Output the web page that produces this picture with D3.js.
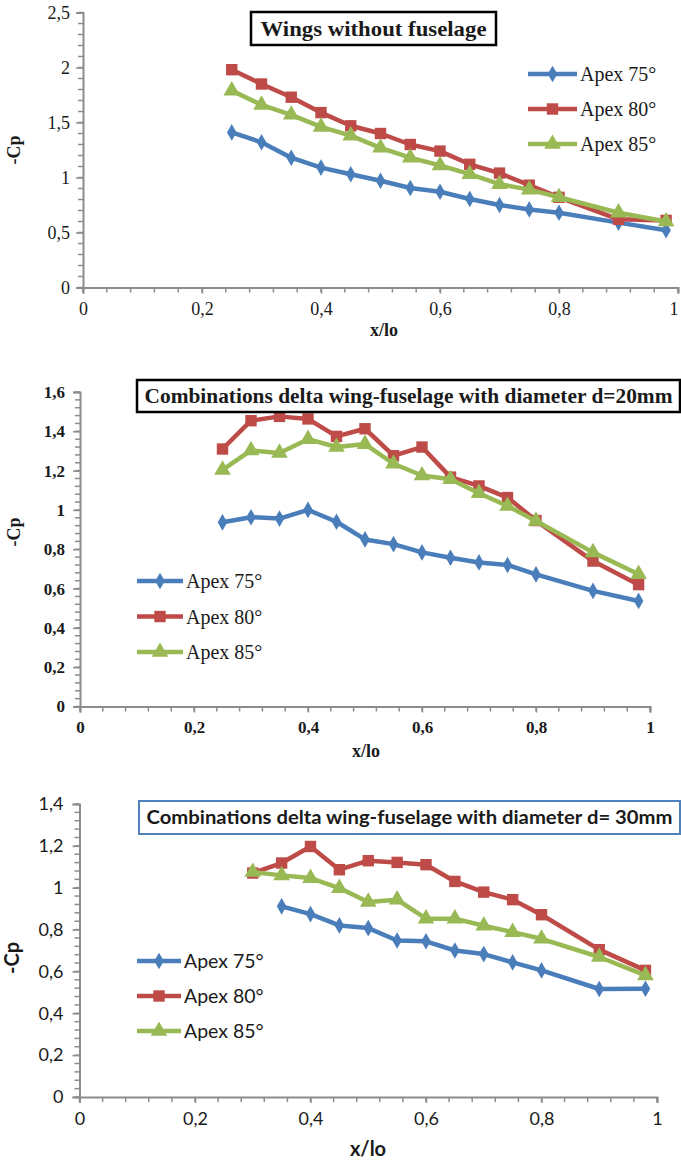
<!DOCTYPE html>
<html>
<head>
<meta charset="utf-8">
<script src="https://cdn.jsdelivr.net/npm/d3@7/dist/d3.min.js"></script>
<style>
  html, body { margin: 0; padding: 0; background: #fff; }
  svg { display: block; }
</style>
</head>
<body>
<svg id="chart" width="681" height="1164"></svg>
<script>
// Pressure coefficient distributions (-Cp vs x/lo) for three delta-wing configurations.
const seriesNames = ["Apex 75°", "Apex 80°", "Apex 85°"];
const seriesColors = ["#4A7EBB", "#BE4B48", "#98B954"];
const seriesSymbols = ["diamond", "square", "triangle"];

// Panel 1: wings without fuselage
const xWing = [0.25, 0.30, 0.35, 0.40, 0.45, 0.50, 0.55, 0.60, 0.65, 0.70, 0.75, 0.80, 0.90, 0.98];
const wingApex75 = [1.41, 1.32, 1.18, 1.09, 1.03, 0.97, 0.905, 0.87, 0.805, 0.75, 0.71, 0.68, 0.59, 0.52];
const wingApex80 = [1.98, 1.85, 1.73, 1.59, 1.47, 1.40, 1.30, 1.24, 1.12, 1.04, 0.93, 0.82, 0.62, 0.61];
const wingApex85 = [1.79, 1.66, 1.57, 1.46, 1.38, 1.27, 1.18, 1.11, 1.03, 0.94, 0.89, 0.82, 0.68, 0.60];
const wingYTicks = [0, 0.5, 1, 1.5, 2, 2.5];

// Panel 2: wing-fuselage, d = 20 mm
const xD20 = [0.25, 0.30, 0.35, 0.40, 0.45, 0.50, 0.55, 0.60, 0.65, 0.70, 0.75, 0.80, 0.90, 0.98];
const d20Apex75 = [0.937, 0.963, 0.956, 1.00, 0.94, 0.85, 0.826, 0.784, 0.757, 0.733, 0.72, 0.672, 0.588, 0.537];
const d20Apex80 = [1.31, 1.454, 1.476, 1.463, 1.374, 1.413, 1.276, 1.32, 1.167, 1.122, 1.063, 0.946, 0.74, 0.62];
const d20Apex85 = [1.204, 1.303, 1.29, 1.36, 1.32, 1.335, 1.235, 1.175, 1.156, 1.085, 1.02, 0.944, 0.784, 0.673];
const d20YTicks = [0, 0.2, 0.4, 0.6, 0.8, 1, 1.2, 1.4, 1.6];

// Panel 3: wing-fuselage, d = 30 mm
const xD30Apex75 = [0.35, 0.40, 0.45, 0.50, 0.55, 0.60, 0.65, 0.70, 0.75, 0.80, 0.90, 0.98];
const xD30 = [0.30, 0.35, 0.40, 0.45, 0.50, 0.55, 0.60, 0.65, 0.70, 0.75, 0.80, 0.90, 0.98];
const d30Apex75 = [0.911, 0.874, 0.82, 0.807, 0.748, 0.744, 0.70, 0.683, 0.643, 0.605, 0.516, 0.517];
const d30Apex80 = [1.07, 1.118, 1.197, 1.086, 1.129, 1.121, 1.11, 1.03, 0.979, 0.943, 0.871, 0.704, 0.605];
const d30Apex85 = [1.075, 1.059, 1.046, 0.998, 0.932, 0.943, 0.852, 0.852, 0.818, 0.788, 0.756, 0.669, 0.581];
const d30YTicks = [0, 0.2, 0.4, 0.6, 0.8, 1, 1.2, 1.4];

const xTicks = [0, 0.2, 0.4, 0.6, 0.8, 1];
const titles = [
  "Wings without fuselage",
  "Combinations delta wing-fuselage with diameter d=20mm",
  "Combinations delta wing-fuselage with diameter d= 30mm"
];

const svg = d3.select("#chart");
const axisColor = "#8c8c8c";
const serif = "Liberation Serif";
const sans = "Lato";
const fmt = v => String(+v.toFixed(2)).replace(".", ",");

const symbolTypes = { diamond: d3.symbolDiamond, square: d3.symbolSquare, triangle: d3.symbolTriangle };
const symbolSizes = { diamond: 80, square: 130, triangle: 120 };

function symbolPath(kind, scale = 1) {
  return d3.symbol().type(symbolTypes[kind]).size(symbolSizes[kind] * scale)();
}

// apply font settings directly on a text selection
function font(sel, family, size, weight) {
  return sel.attr("font-family", family).style("font-family", family)
    .style("font-size", size + "px").style("font-weight", weight).attr("fill", "#1a1a1a");
}

function drawPanel(p) {
  const g = svg.append("g");
  const x = d3.scaleLinear().domain([0, 1]).range([p.left, p.right]);
  const y = d3.scaleLinear().domain([0, p.yMax]).range([p.bottom, p.top]);

  // minor ticks
  const xMinor = d3.range(0, 1.0001, 0.04);
  g.append("g").selectAll("line").data(xMinor).join("line")
    .attr("x1", d => x(d)).attr("x2", d => x(d))
    .attr("y1", p.bottom).attr("y2", p.bottom + 5)
    .attr("stroke", axisColor).attr("stroke-width", 1.5);
  const yMinor = d3.range(0, p.yMax + 1e-6, p.yMinor);
  g.append("g").selectAll("line").data(yMinor).join("line")
    .attr("x1", p.left - 5).attr("x2", p.left)
    .attr("y1", d => y(d)).attr("y2", d => y(d))
    .attr("stroke", axisColor).attr("stroke-width", 1.5);

  // axes with major ticks
  const xAxis = g.append("g").attr("transform", `translate(0,${p.bottom})`)
    .call(d3.axisBottom(x).tickValues(xTicks).tickFormat(fmt).tickSize(6).tickPadding(p.xPad));
  const yAxis = g.append("g").attr("transform", `translate(${p.left},0)`)
    .call(d3.axisLeft(y).tickValues(p.yTicks).tickFormat(fmt).tickSize(7).tickPadding(p.yPad));
  [xAxis, yAxis].forEach(a => {
    a.attr("font-family", null).attr("font-size", null);
    a.select(".domain").attr("stroke", axisColor).attr("stroke-width", 2);
    a.selectAll(".tick line").attr("stroke", axisColor).attr("stroke-width", 1.5);
    font(a.selectAll(".tick text"), p.font, p.tickSize, p.tickWeight);
  });
  // keep the last x label inside the drawing area
  xAxis.selectAll(".tick text").filter(d => d === 1)
    .attr("text-anchor", p.lastAnchor || "middle");

  // axis titles
  font(g.append("text").attr("x", p.xTitleX).attr("y", p.xTitleY).attr("text-anchor", "middle"),
    p.font, p.axisTitleSize, "bold").text("x/lo");
  font(g.append("text").attr("transform", `translate(${p.yTitleX},${p.yTitleY}) rotate(-90)`)
    .attr("text-anchor", "middle"), p.font, p.axisTitleSize, "bold").text("-Cp");

  // series lines and markers
  const line = d3.line().x(d => x(d[0])).y(d => y(d[1]));
  p.series.forEach((s, i) => {
    const pts = d3.zip(s.x, s.y);
    g.append("path").datum(pts).attr("d", line).attr("fill", "none")
      .attr("stroke", seriesColors[i]).attr("stroke-width", 4.5).attr("stroke-linejoin", "round");
    g.append("g").selectAll("path").data(pts).join("path")
      .attr("transform", d => `translate(${x(d[0])},${y(d[1])})`)
      .attr("d", symbolPath(seriesSymbols[i])).attr("fill", seriesColors[i]);
  });

  // title box
  const tg = g.append("g");
  tg.append("rect").attr("x", p.box[0]).attr("y", p.box[1]).attr("width", p.box[2]).attr("height", p.box[3])
    .attr("fill", "#fff").attr("stroke", p.boxStroke).attr("stroke-width", p.boxStrokeWidth);
  font(tg.append("text").attr("x", p.box[0] + p.box[2] / 2).attr("y", p.box[1] + p.box[3] / 2)
    .attr("dy", "0.35em").attr("text-anchor", "middle")
    .attr("textLength", p.titleWidth).attr("lengthAdjust", "spacingAndGlyphs"),
    p.font, p.titleSize, "bold").text(p.title);

  // legend
  const lg = g.append("g");
  seriesNames.forEach((name, i) => {
    const ly = p.legend.y + i * p.legend.dy;
    lg.append("line").attr("x1", p.legend.x).attr("x2", p.legend.x + p.legend.w)
      .attr("y1", ly).attr("y2", ly).attr("stroke", seriesColors[i]).attr("stroke-width", 4.5);
    lg.append("path").attr("transform", `translate(${p.legend.x + p.legend.w / 2},${ly})`)
      .attr("d", symbolPath(seriesSymbols[i])).attr("fill", seriesColors[i]);
    font(lg.append("text").attr("x", p.legend.x + p.legend.w + 3).attr("y", ly).attr("dy", "0.35em"),
      p.font, p.legendSize, p.legendWeight || "normal").text(name);
  });
}

drawPanel({
  left: 83, right: 678, top: 12.5, bottom: 287.5, yMax: 2.5, yMinor: 0.1, yTicks: wingYTicks,
  font: serif, tickSize: 18, tickWeight: "normal", xPad: 9, yPad: 6, axisTitleSize: 18,
  xTitleX: 384, xTitleY: 336, yTitleX: 20, yTitleY: 150, lastAnchor: "end",
  box: [251, 12, 245, 33], boxStroke: "#000", boxStrokeWidth: 2.5, title: titles[0], titleSize: 21, titleWidth: 226,
  legend: { x: 528, y: 74, dy: 35, w: 49 }, legendSize: 20,
  series: [
    { x: xWing, y: wingApex75 }, { x: xWing, y: wingApex80 }, { x: xWing, y: wingApex85 }
  ]
});

drawPanel({
  left: 80, right: 650, top: 392, bottom: 706.5, yMax: 1.6, yMinor: 0.04, yTicks: d20YTicks,
  font: serif, tickSize: 17, tickWeight: "bold", xPad: 8, yPad: 8, axisTitleSize: 18,
  xTitleX: 366, xTitleY: 757, yTitleX: 20, yTitleY: 532,
  box: [137, 380, 543, 32], boxStroke: "#000", boxStrokeWidth: 2.5, title: titles[1], titleSize: 21, titleWidth: 528,
  legend: { x: 137, y: 581, dy: 35.5, w: 46 }, legendSize: 20,
  series: [
    { x: xD20, y: d20Apex75 }, { x: xD20, y: d20Apex80 }, { x: xD20, y: d20Apex85 }
  ]
});

drawPanel({
  left: 79.5, right: 657, top: 804, bottom: 1097, yMax: 1.4, yMinor: 0.04, yTicks: d30YTicks,
  font: sans, tickSize: 18, tickWeight: "normal", xPad: 9, yPad: 9, axisTitleSize: 20,
  xTitleX: 368, xTitleY: 1156, yTitleX: 19, yTitleY: 958,
  box: [139, 801, 541, 33], boxStroke: "#4F81BD", boxStrokeWidth: 2, title: titles[2], titleSize: 18, titleWidth: 526,
  legend: { x: 137, y: 961, dy: 35, w: 44 }, legendSize: 19.5,
  series: [
    { x: xD30Apex75, y: d30Apex75 }, { x: xD30, y: d30Apex80 }, { x: xD30, y: d30Apex85 }
  ]
});
</script>
</body>
</html>
